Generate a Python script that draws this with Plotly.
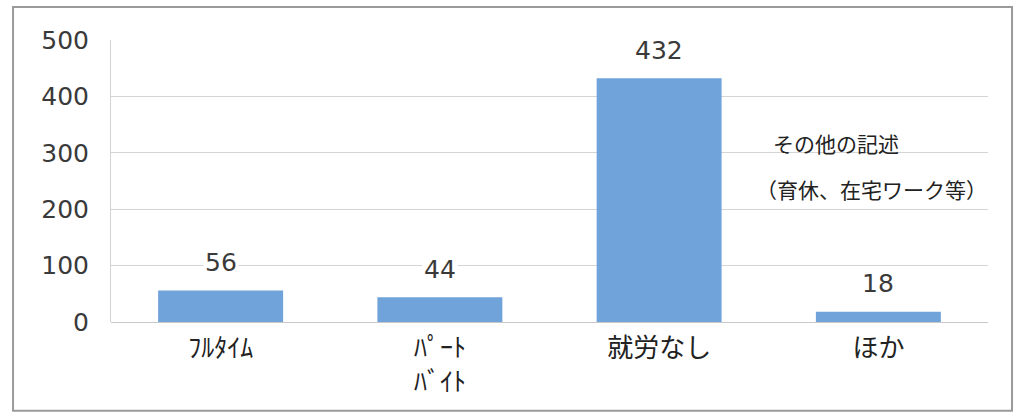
import plotly.graph_objects as go

categories = ["ﾌﾙﾀｲﾑ", "ﾊﾟｰﾄ<br>ﾊﾞｲﾄ", "就労なし", "ほか"]
values = [56, 44, 432, 18]
y_ticks = [0, 100, 200, 300, 400, 500]
note_lines = ["その他の記述", "（育休、在宅ワーク等）"]

FONT = "Noto Sans CJK JP"
NUM_FONT = "DejaVu Sans"

fig = go.Figure()
fig.add_trace(go.Bar(
    x=categories, y=values,
    marker=dict(color="#6FA3D9", line=dict(width=0)),
    width=0.57,
))

# value labels above the bars
for c, v in zip(categories, values):
    fig.add_annotation(x=c, y=v, text=str(v), showarrow=False,
                       yanchor="middle", yshift=28, bgcolor="white",
                       font=dict(family=NUM_FONT, size=25, color="#3a3a3a"))

# side note
fig.add_annotation(x=0.827, y=0.635, xref="paper", yref="paper", text=note_lines[0],
                   showarrow=False, xanchor="center", yanchor="middle",
                   font=dict(family=FONT, size=21, color="#222222"))
fig.add_annotation(x=0.867, y=0.47, xref="paper", yref="paper", text=note_lines[1],
                   showarrow=False, xanchor="center", yanchor="middle",
                   font=dict(family=FONT, size=21, color="#222222"))

# outer chart border
fig.add_shape(type="rect", xref="paper", yref="paper",
              x0=-0.1117, x1=1.0274, y0=-0.315, y1=1.117,
              line=dict(color="#9a9a9a", width=2))

fig.update_xaxes(
    showgrid=False, showline=False, ticks="",
    tickfont=dict(family=FONT, size=26, color="#222222"),
    ticklabelstandoff=8,
)
fig.update_yaxes(
    range=[0, 500], tickvals=y_ticks,
    showgrid=True, gridcolor="#d4d4d4", gridwidth=1,
    showline=True, linecolor="#d4d4d4", linewidth=1,
    zeroline=True, zerolinecolor="#c8c8c8", zerolinewidth=1,
    tickfont=dict(family=NUM_FONT, size=25, color="#3a3a3a"),
    ticklabelstandoff=16,
)
fig.update_layout(
    width=1017, height=414,
    margin=dict(l=111, r=29, t=40, b=92),
    paper_bgcolor="white", plot_bgcolor="white",
    showlegend=False,
)
fig.write_html("out.html", config={"displayModeBar": False},
               post_script="document.body.style.margin='0px';")
